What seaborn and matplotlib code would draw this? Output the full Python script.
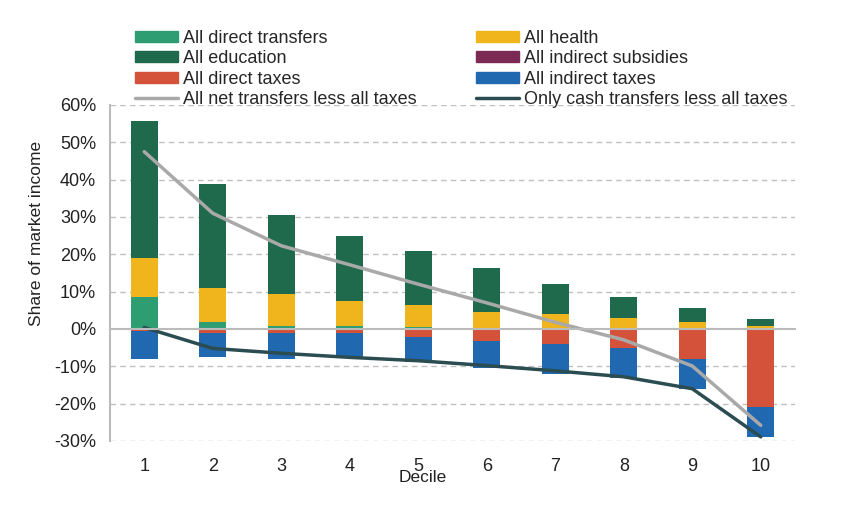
import numpy as np
import pandas as pd
import seaborn as sns
import matplotlib.pyplot as plt
from matplotlib.patches import Patch
from matplotlib.lines import Line2D
from matplotlib.ticker import FuncFormatter

deciles = [1, 2, 3, 4, 5, 6, 7, 8, 9, 10]
direct_transfers = [8.5, 1.9, 0.9, 0.8, 0.5, 0.4, 0.2, 0.1, 0.0, 0.0]
health = [10.5, 9.0, 8.6, 6.7, 5.9, 4.2, 3.8, 2.8, 1.9, 0.7]
indirect_subsidies = [0.0, 0.0, 0.0, 0.0, 0.0, 0.0, 0.0, 0.0, 0.0, 0.0]
education = [36.8, 28.0, 21.1, 17.5, 14.5, 11.8, 8.1, 5.8, 3.6, 2.0]
direct_taxes = [-0.5, -1.2, -1.2, -1.2, -2.2, -3.1, -4.0, -5.0, -8.0, -21.0]
indirect_taxes = [-7.5, -6.2, -6.8, -6.2, -6.7, -7.4, -8.1, -8.0, -8.0, -7.9]
net_less_taxes = [47.5, 31.0, 22.3, 17.2, 12.0, 7.0, 1.8, -2.9, -9.9, -25.8]
cash_less_taxes = [0.4, -5.2, -6.5, -7.6, -8.5, -9.8, -11.2, -12.8, -16.0, -28.9]

cols = {
    "All direct transfers": "#2e9e72",
    "All education": "#1f6a4d",
    "All direct taxes": "#d4523a",
    "All health": "#f0b41c",
    "All indirect subsidies": "#7b2a55",
    "All indirect taxes": "#2068b0",
}
line_net = "#a9a9a9"
line_cash = "#2b4d52"

sns.set_style("white")
plt.rcParams['font.family'] = ['Liberation Sans', 'DejaVu Sans']

fig = plt.figure(figsize=(8.48, 5.14), dpi=100)
ax = fig.add_axes([110/848, 1-441/514, 685/848, 336/514])

df = pd.DataFrame({"decile": deciles})

# positive stack: transfers, health, subsidies, education
pos = [("All direct transfers", direct_transfers), ("All health", health),
       ("All indirect subsidies", indirect_subsidies), ("All education", education)]
bottom = np.zeros(len(deciles))
for name, vals in pos:
    df["v"] = vals
    sns.barplot(data=df, x="decile", y="v", native_scale=True, width=0.4,
                color=cols[name], saturation=1, bottom=bottom, ax=ax, linewidth=0)
    bottom = bottom + np.array(vals)

# negative stack: direct taxes then indirect taxes
neg = [("All direct taxes", direct_taxes), ("All indirect taxes", indirect_taxes)]
bottom = np.zeros(len(deciles))
for name, vals in neg:
    df["v"] = vals
    sns.barplot(data=df, x="decile", y="v", native_scale=True, width=0.4,
                color=cols[name], saturation=1, bottom=bottom, ax=ax, linewidth=0)
    bottom = bottom + np.array(vals)

sns.lineplot(x=deciles, y=net_less_taxes, color=line_net, lw=2.5, ax=ax)
sns.lineplot(x=deciles, y=cash_less_taxes, color=line_cash, lw=2.5, ax=ax)

ax.set_xlim(0.5, 10.5)
ax.set_ylim(-30, 60)
ax.set_yticks(np.arange(-30, 61, 10))
ax.yaxis.set_major_formatter(FuncFormatter(lambda v, p: f"{int(v)}%"))
for yv in range(-30, 61, 10):
    if yv != 0:
        ax.axhline(yv, color="#c0c0c0", lw=1, ls=(0, (4, 3)), zorder=0)
ax.tick_params(axis="y", length=8, width=1, labelsize=13, pad=2,
               colors="#bbbbbb", labelcolor="#222222")

for s in ["top", "right"]:
    ax.spines[s].set_visible(False)
ax.spines["left"].set_color("#bbbbbb")
ax.spines["left"].set_linewidth(1.5)
ax.spines["bottom"].set_position(("data", 0))
ax.spines["bottom"].set_color("#bbbbbb")
ax.spines["bottom"].set_linewidth(1.5)

ax.set_xticks(deciles)
ax.set_xticks(np.arange(0.5, 11, 1), minor=True)
ax.tick_params(axis="x", which="major", length=0, pad=93, labelsize=13, labelcolor="#222222")
ax.tick_params(axis="x", which="minor", length=7, color="#bbbbbb", width=1.5, direction="out")
ax.set_xlabel("")
ax.set_ylabel("")

fig.text(423/848, 1-477/514, "Decile", ha="center", va="center", fontsize=12.5, color="#222222")
fig.text(37/848, 1-233/514, "Share of market income", rotation=90, ha="center", va="center",
         fontsize=12.5, color="#222222")

handles = [
    Patch(color=cols["All direct transfers"], label="All direct transfers"),
    Patch(color=cols["All education"], label="All education"),
    Patch(color=cols["All direct taxes"], label="All direct taxes"),
    Line2D([], [], color=line_net, lw=2.5, label="All net transfers less all taxes"),
    Patch(color=cols["All health"], label="All health"),
    Patch(color=cols["All indirect subsidies"], label="All indirect subsidies"),
    Patch(color=cols["All indirect taxes"], label="All indirect taxes"),
    Line2D([], [], color=line_cash, lw=2.5, label="Only cash transfers less all taxes"),
]
fig.legend(handles=handles, ncol=2, loc="upper left", bbox_to_anchor=(135/848, 1-30/514),
           frameon=False, fontsize=13, handlelength=2.4, handleheight=0.55,
           handletextpad=0.25, columnspacing=3.3, labelspacing=0.18, borderpad=0,
           borderaxespad=0)

fig.savefig("out.png", dpi=100)
